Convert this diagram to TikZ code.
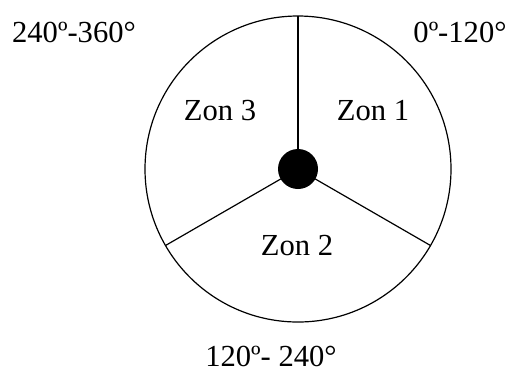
\documentclass[tikz,border=0pt]{standalone}
\usepackage{fontspec}
\setmainfont{Liberation Serif}
\usepackage{tikz}

\begin{document}
\begin{tikzpicture}[
    x=0.5pt, y=-0.5pt,
    ring/.style={
        draw=black, line width=0.6pt, circle, inner sep=0pt, outer sep=0pt,
        minimum size=153pt
    },
    hub/.style={
        fill=black, circle, inner sep=0pt, outer sep=0pt, minimum size=20pt
    },
    spoke/.style={draw=black, line width=0.6pt},
    lbl/.style={font=\fontsize{15.3}{18}\selectfont, anchor=base, inner sep=0pt},
    every node/.style={font=\fontsize{15.3}{18}\selectfont}
]

% =============================================
% Frame
% =============================================
\useasboundingbox (0,0) rectangle (508,372);

% =============================================
% Wheel with three spokes
% =============================================
\node[ring] (rim) at (298,169) {};

\draw[spoke] (rim.center) -- (rim.90);
\draw[spoke] (rim.center) -- (rim.210);
\draw[spoke] (rim.center) -- (rim.330);

\node[hub] (hub) at (rim.center) {};

% =============================================
% Zones
% =============================================
\node[lbl] (zon1) at (373,120) {Zon 1};
\node[lbl] (zon2) at (297,255) {Zon 2};
\node[lbl] (zon3) at (220,120) {Zon 3};

% =============================================
% Angle ranges
% =============================================
\node[lbl] (ang1) at (460,42) {0º-120°};
\node[lbl] (ang2) at (271,366) {120º- 240°};
\node[lbl] (ang3) at (74,42) {240º-360°};

\end{tikzpicture}
\end{document}
